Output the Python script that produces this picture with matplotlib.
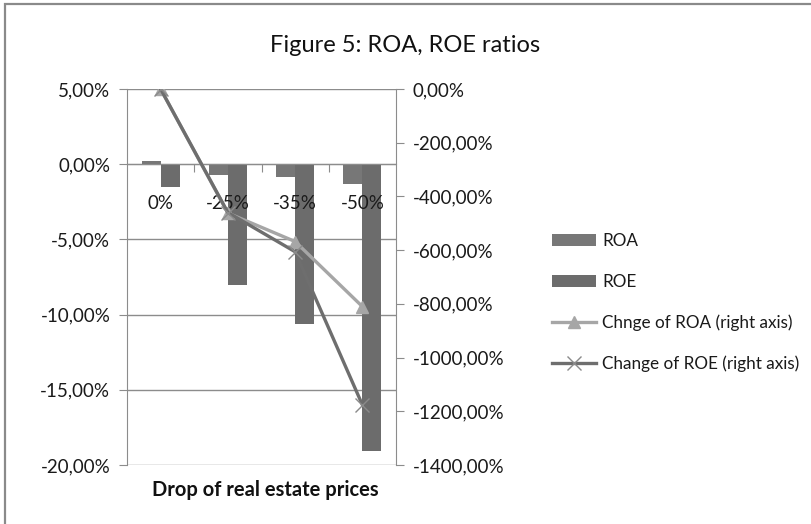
import matplotlib
matplotlib.use("Agg")
import matplotlib.pyplot as plt
import numpy as np
from matplotlib.patches import Rectangle
from matplotlib.ticker import FuncFormatter, FixedLocator
from matplotlib.transforms import blended_transform_factory, offset_copy

plt.rcParams['font.family'] = ['Lato', 'DejaVu Sans']

categories = ['0%', '-25%', '-35%', '-50%']
roa = [0.2, -0.7, -0.87, -1.33]
roe = [-1.5, -8.05, -10.6, -19.05]
chg_roa = [0, -462, -568, -810]
chg_roe = [0, -460, -606, -1176]

W, H = 811, 524
fig = plt.figure(figsize=(W / 100, H / 100), dpi=100)
fig.patch.set_facecolor('white')

# outer chart border
fig.patches.append(Rectangle((5 / W, -0.2), 1.2, 1.2 - 4 / H,
                             transform=fig.transFigure, fill=False,
                             edgecolor='#8a8a8a', linewidth=1.6))

ax = fig.add_axes([127 / W, 59 / H, 269 / W, 376 / H])
x = np.arange(len(categories))
bw = 0.283
grid_c = '#8c8c8c'
txt_c = '#1a1a1a'
fs = 13.5

ax.set_xlim(-0.5, len(categories) - 0.5)
ax.set_ylim(-20, 5)
ax.set_yticks([5, 0, -5, -10, -15, -20])
ax.yaxis.set_major_formatter(FuncFormatter(lambda v, p: f"{v:.2f}%".replace('.', ',')))
ax.grid(axis='y', color=grid_c, linewidth=1.0)
ax.set_axisbelow(True)

ax.bar(x - bw / 2, roa, width=bw, color='#777777', label='ROA', zorder=2)
ax.bar(x + bw / 2, roe, width=bw, color='#6c6c6c', label='ROE', zorder=2)

for s in ['top', 'right']:
    ax.spines[s].set_visible(False)
ax.spines['left'].set_color(grid_c)
ax.spines['bottom'].set_position(('data', 0))
ax.spines['bottom'].set_color(grid_c)

ax.xaxis.set_major_locator(FixedLocator([0.5, 1.5, 2.5]))
ax.set_xticklabels([])
ax.tick_params(axis='x', which='major', direction='out', length=6, color=grid_c)
ax.tick_params(axis='y', direction='out', length=6, color=grid_c, labelsize=fs,
               labelcolor=txt_c, pad=6)

# category labels drawn above the bars (as in the reference)
trans = offset_copy(ax.transData, fig=fig, x=0, y=-39, units='dots')
for xi, c in zip(x, categories):
    ax.text(xi, 0, c, transform=trans, ha='center', va='center', fontsize=fs,
            color=txt_c, zorder=6, clip_on=False)

ax2 = ax.twinx()
ax2.set_ylim(-1400, 0)
ax2.set_yticks(np.arange(0, -1401, -200))
ax2.yaxis.set_major_formatter(FuncFormatter(lambda v, p: f"{v:.2f}%".replace('.', ',')))
for s in ['top', 'left', 'bottom']:
    ax2.spines[s].set_visible(False)
ax2.spines['right'].set_color(grid_c)
ax2.tick_params(axis='y', direction='out', length=6, color=grid_c, labelsize=fs,
                labelcolor=txt_c, pad=6)

ax2.plot(x, chg_roa, color='#a6a6a6', linewidth=2.4, marker='^', markersize=9,
         markeredgecolor='#a6a6a6', label='Chnge of ROA (right axis)', zorder=3)
ax2.plot(x, chg_roe, color='#6e6e6e', linewidth=2.4, marker='x', markersize=10,
         markeredgewidth=1.0, markeredgecolor='#8a8a8a',
         label='Change of ROE (right axis)', zorder=4)

fig.text(405 / W, 1 - 46 / H, 'Figure 5: ROA, ROE ratios', ha='center', va='center',
         fontsize=17, color='#111111')
fig.text(265 / W, 1 - 490 / H, 'Drop of real estate prices', ha='center', va='center',
         fontsize=14.5, fontweight='bold', color='#111111')

h1, l1 = ax.get_legend_handles_labels()
h2, l2 = ax2.get_legend_handles_labels()
leg = fig.legend(h1 + h2, l1 + l2, loc='upper left', bbox_to_anchor=(545 / W, 1 - 226 / H),
                 frameon=False, fontsize=12.3, labelspacing=1.45, handlelength=2.6,
                 handletextpad=0.35, borderaxespad=0)
for t in leg.get_texts():
    t.set_color(txt_c)

fig.savefig('out.png', dpi=100, facecolor='white')
